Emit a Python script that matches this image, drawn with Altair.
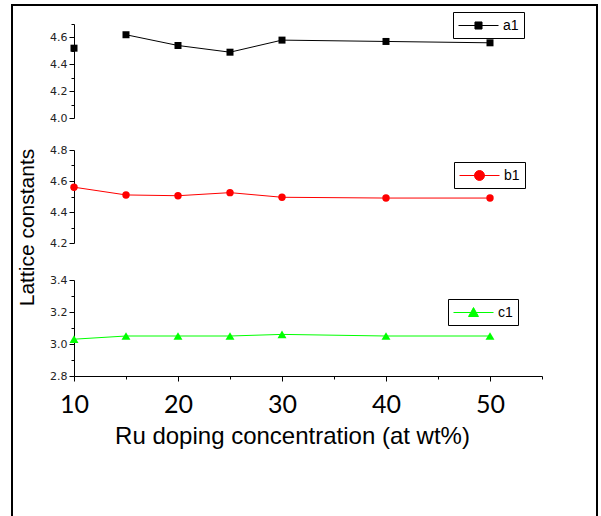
import altair as alt
import pandas as pd

# ---- data ----
conc = [10, 15, 20, 25, 30, 40, 50]
a1 = [4.52, 4.62, 4.54, 4.49, 4.58, 4.57, 4.56]
b1 = [4.56, 4.51, 4.505, 4.525, 4.495, 4.49, 4.49]
c1 = [3.03, 3.05, 3.05, 3.05, 3.06, 3.05, 3.05]
a1_connected = [False, True, True, True, True, True, True]
all_connected = [True, True, True, True, True, True, True]

x_major = [10, 20, 30, 40, 50]
x_minor = [15, 25, 35, 45, 55]
a_ticks, a_minor = [4.0, 4.2, 4.4, 4.6], [4.1, 4.3, 4.5, 4.7]
b_ticks, b_minor = [4.2, 4.4, 4.6, 4.8], [4.3, 4.5, 4.7]
c_ticks, c_minor = [2.8, 3.0, 3.2, 3.4], [2.9, 3.1, 3.3]

W, H = 468, 352
XDOM = [10, 55]

# legend glyphs: a line with the marker on it (unit = symbol radius 8 px)
SQUARE = "M-2.5,0L2.5,0M-0.44,-0.44L0.44,-0.44L0.44,0.44L-0.44,0.44Z"
CIRCLE = "M-2.5,0L2.5,0M0.62,0A0.62,0.62,0,1,1,-0.62,0A0.62,0.62,0,1,1,0.62,0Z"
TRIANGLE = "M-2.5,0L2.5,0M0,-0.62L0.62,0.5L-0.62,0.5Z"

XAXIS = alt.Axis(values=x_major, format="d", title="Ru doping concentration (at wt%)",
                 grid=False, tickSize=5, tickColor="black", domainColor="black",
                 labelFont="Lato", labelFontSize=25, labelColor="black", labelPadding=11,
                 labelFlush=False,
                 titleFont="Liberation Sans", titleFontSize=24, titleFontWeight="normal",
                 titleColor="black", titleX=218, titlePadding=7)
XMINOR = alt.Axis(values=x_minor, labels=False, domain=False, tickSize=3, tickColor="black",
                  grid=False, title=None, orient="bottom")


def panel(name, values, connected, color, shape, size, domain, yrange, ticks, minor,
          lx, ly, sym, xaxis=None, xminor=None, ytitle=None):
    df = pd.DataFrame({"x": conc, "y": values, "series": name, "connected": connected})
    xscale = alt.Scale(domain=XDOM, nice=False, zero=False)
    yscale = alt.Scale(domain=domain, range=yrange, nice=False, zero=False)
    yargs = dict(values=ticks, format=".1f", grid=False, tickSize=5, tickColor="black",
                 domainColor="black", labelFont="DejaVu Sans", labelFontSize=11,
                 labelColor="#222", labelPadding=2, orient="left")
    if ytitle:
        yargs.update(title=ytitle, titleFont="Liberation Sans", titleFontSize=21,
                     titleFontWeight="normal", titleColor="black", titleX=-47, titleY=203,
                     titleAngle=270, titleAlign="center", titleBaseline="middle")
    else:
        yargs.update(title=None)
    yaxis = alt.Axis(**yargs)

    base = alt.Chart(df)
    legend = alt.Legend(title=None, orient="none", legendX=lx, legendY=ly, strokeColor="black",
                        padding=5, cornerRadius=0, symbolType=sym, symbolSize=256,
                        symbolOffset=12,
                        symbolStrokeWidth=1, symbolFillColor=color, symbolStrokeColor=color,
                        labelFont="Liberation Sans", labelFontSize=14, labelColor="black",
                        labelOffset=16)
    line = base.transform_filter("datum.connected").mark_line(strokeWidth=1).encode(
        x=alt.X("x:Q", scale=xscale, axis=xaxis),
        y=alt.Y("y:Q", scale=yscale, axis=yaxis),
        color=alt.Color("series:N", scale=alt.Scale(domain=[name], range=[color]), legend=legend),
    )
    pts = base.mark_point(shape=shape, filled=True, size=size, opacity=1, color=color).encode(
        x=alt.X("x:Q", scale=xscale, axis=xaxis),
        y=alt.Y("y:Q", scale=yscale, axis=yaxis),
    )
    minor_layer = base.mark_point(opacity=0).encode(
        x=alt.X("x:Q", scale=xscale, axis=xminor),
        y=alt.Y("y:Q", scale=yscale,
                axis=alt.Axis(values=minor, labels=False, domain=False, tickSize=3,
                              tickColor="black", grid=False, title=None, orient="left")),
    )
    return [alt.layer(line, pts), minor_layer]


layers = []
layers += panel("a1", a1, a1_connected, "black", "square", 49, [4.0, 4.7], [94, 0],
                a_ticks, a_minor, 379, -12, SQUARE)
layers += panel("b1", b1, all_connected, "#ff0000", "circle", 55, [4.2, 4.8], [219, 126],
                b_ticks, b_minor, 380, 138, CIRCLE, ytitle="Lattice constants")
layers += panel("c1", c1, all_connected, "#00ff00", "triangle-up", 80, [2.8, 3.4], [352, 256],
                c_ticks, c_minor, 374, 275, TRIANGLE, xaxis=XAXIS, xminor=XMINOR)

# picture frame (left, right, top edges)
one = alt.Chart(pd.DataFrame({"f": [0]}))
layers.append(one.mark_rule(color="black", strokeWidth=2).encode(
    x=alt.value(-62), y=alt.value(-19), y2=alt.value(492)))
layers.append(one.mark_rule(color="black", strokeWidth=2).encode(
    x=alt.value(523), y=alt.value(-19), y2=alt.value(492)))
layers.append(one.mark_rule(color="black", strokeWidth=2).encode(
    x=alt.value(-63), x2=alt.value(524), y=alt.value(-19)))

chart = alt.layer(*layers).resolve_scale(
    x="independent", y="independent", color="independent").properties(
    width=W, height=H,
    padding={"left": 10, "top": 4, "right": 0, "bottom": 0},
    background="white",
).configure_view(stroke=None)

chart.save("out.html", embed_options={"renderer": "svg", "actions": False})
